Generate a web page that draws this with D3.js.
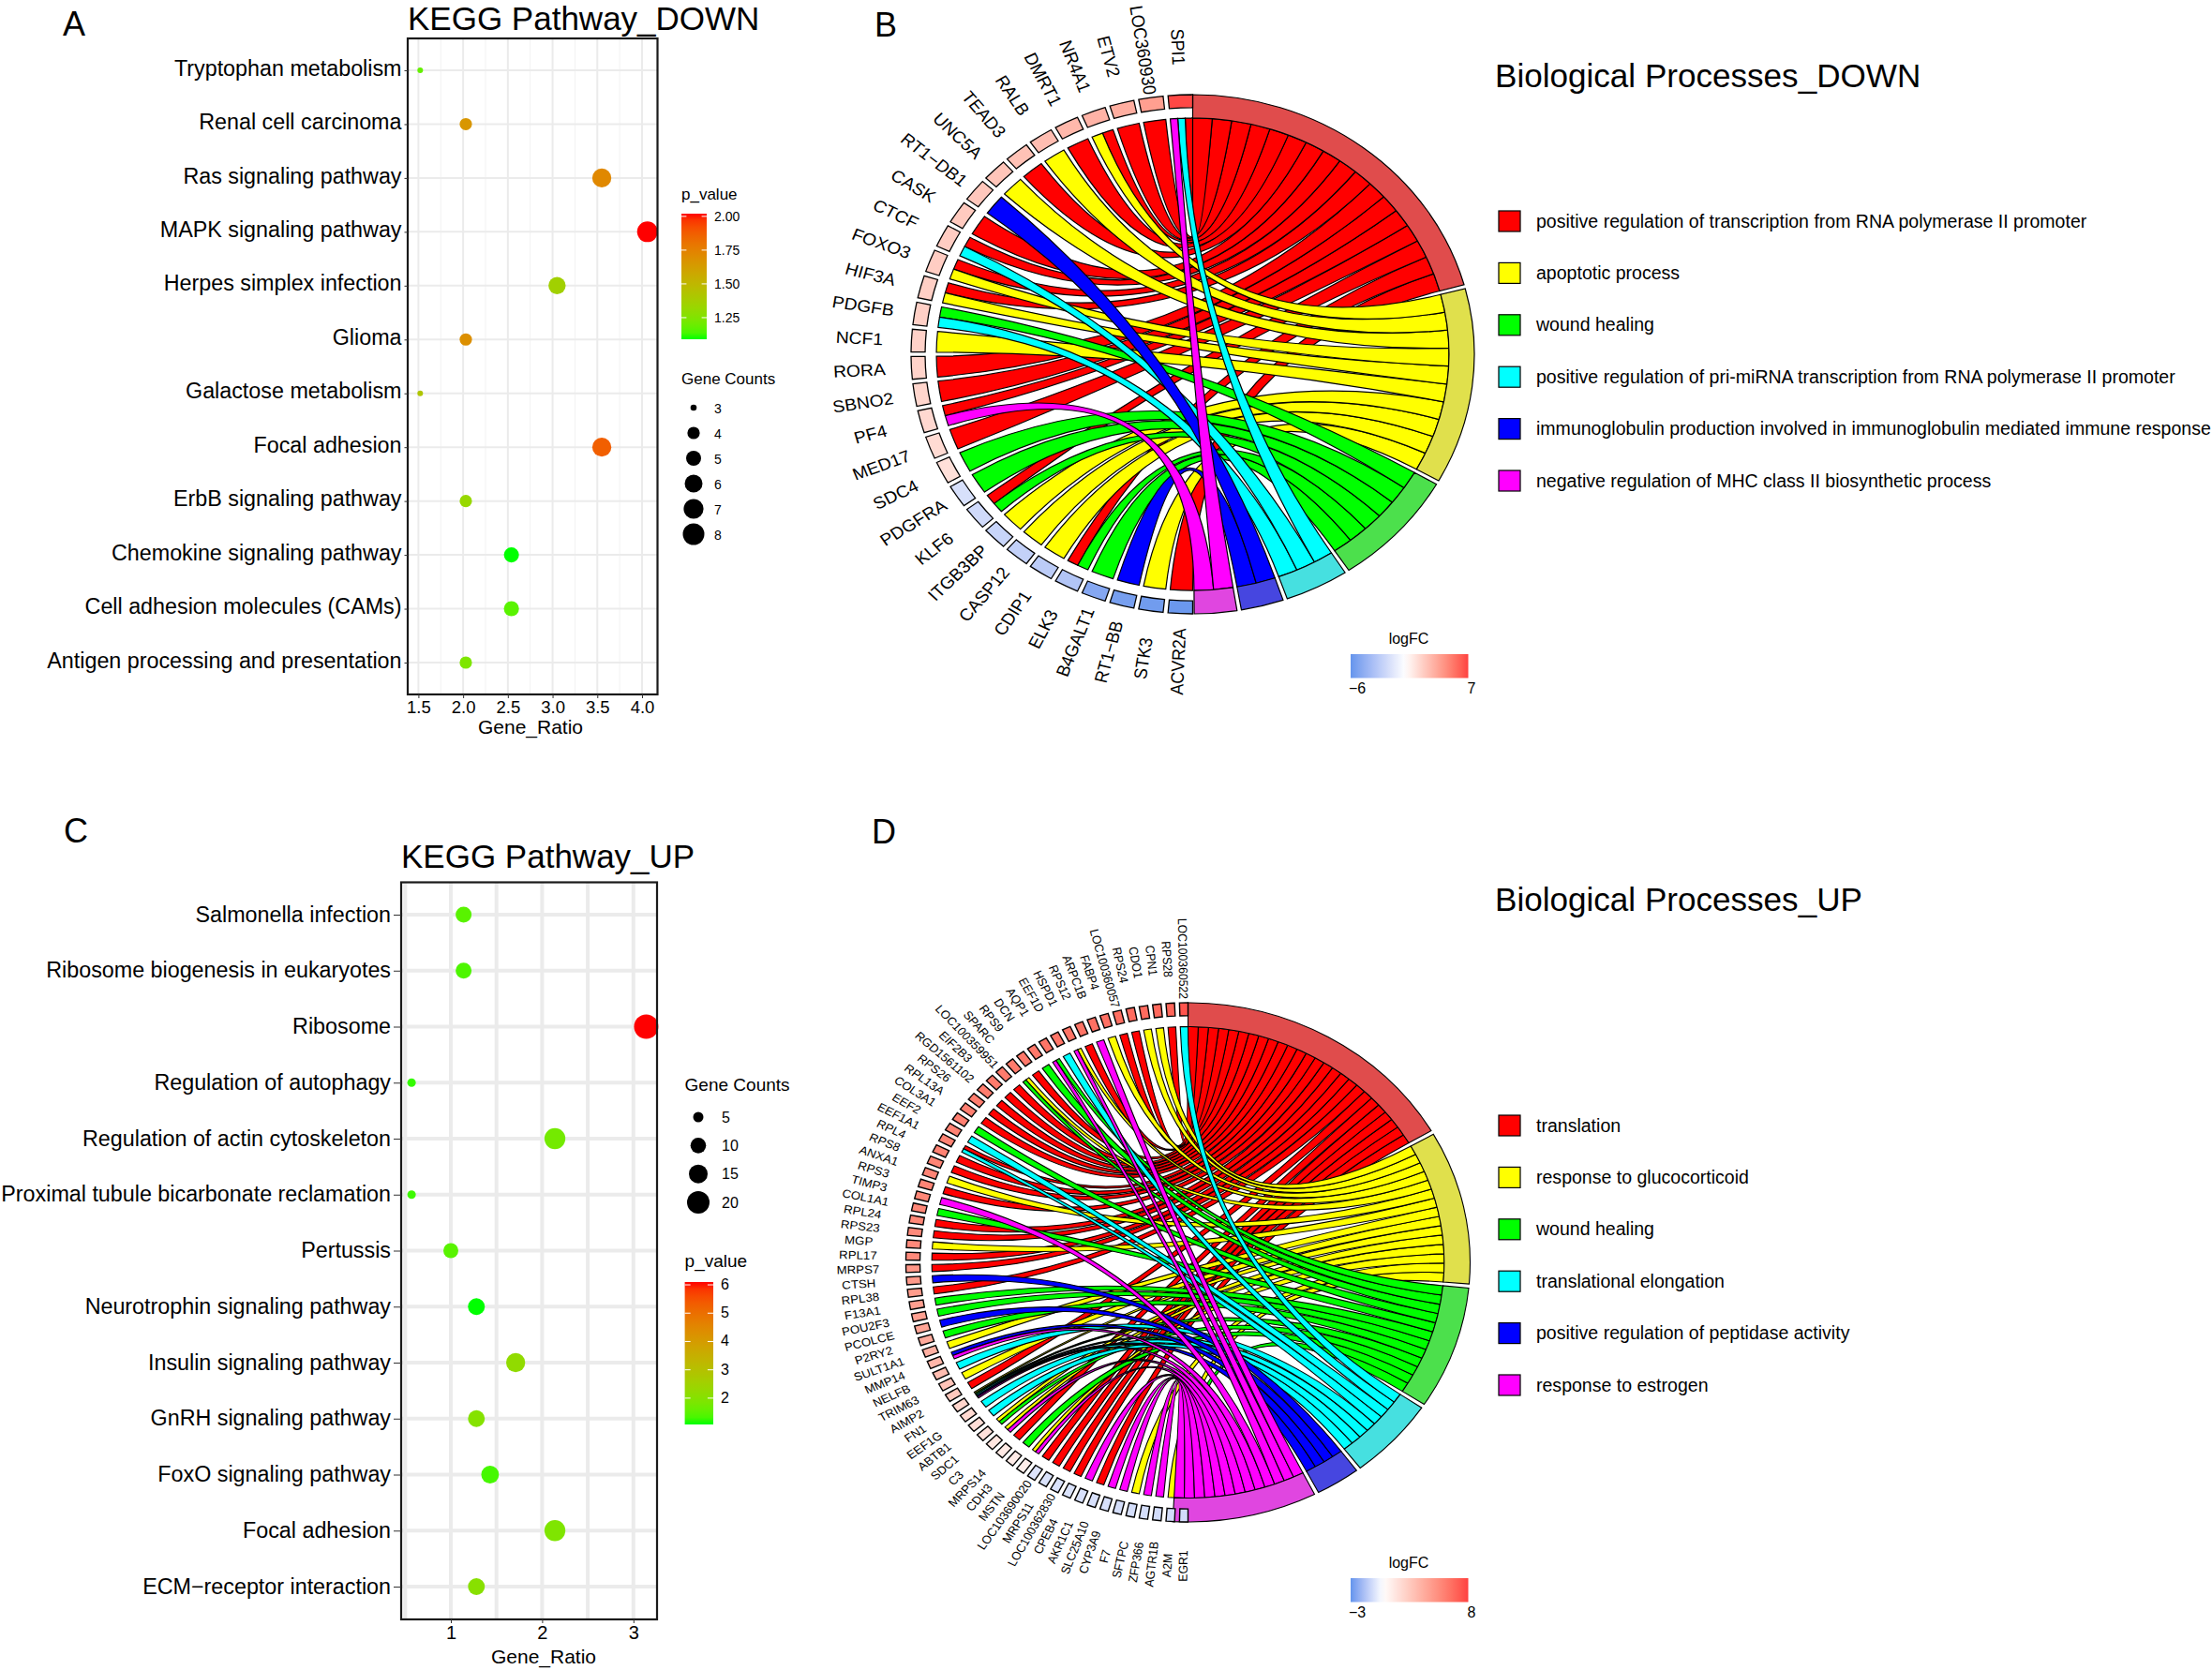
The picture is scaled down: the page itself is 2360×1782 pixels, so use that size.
<!DOCTYPE html>
<html><head><meta charset="utf-8">
<script src="https://cdnjs.cloudflare.com/ajax/libs/d3/7.8.5/d3.min.js"></script>
<style>
html,body{margin:0;padding:0;background:#fff}
svg{display:block}
text{font-family:"Liberation Sans",Arial,sans-serif;fill:#000}
</style></head><body>
<svg id="fig" width="2360" height="1782"></svg>
<script>
// ---------- Panel A data ----------
const catsA = ["Tryptophan metabolism","Renal cell carcinoma","Ras signaling pathway","MAPK signaling pathway","Herpes simplex infection","Glioma","Galactose metabolism","Focal adhesion","ErbB signaling pathway","Chemokine signaling pathway","Cell adhesion molecules (CAMs)","Antigen processing and presentation"];
const ratioA = [1.52,2.03,3.55,4.06,3.05,2.03,1.52,3.55,2.03,2.54,2.54,2.03];
const countA = [3,4,7,8,6,4,3,7,4,5,5,4];
const pvalA  = [1.18,1.66,1.72,2.02,1.36,1.69,1.42,1.87,1.32,1.09,1.16,1.24];
const xTicksA = [1.5,2.0,2.5,3.0,3.5,4.0];
const xMinorA = [1.75,2.25,2.75,3.25,3.75];
const sizeLegendA = [3,4,5,6,7,8];
const pTicksA = [2.0,1.75,1.5,1.25];
// ---------- Panel C data ----------
const catsC = ["Salmonella infection","Ribosome biogenesis in eukaryotes","Ribosome","Regulation of autophagy","Regulation of actin cytoskeleton","Proximal tubule bicarbonate reclamation","Pertussis","Neurotrophin signaling pathway","Insulin signaling pathway","GnRH signaling pathway","FoxO signaling pathway","Focal adhesion","ECM\u2212receptor interaction"];
const ratioC = [1.14,1.14,3.14,0.57,2.14,0.57,1.0,1.28,1.71,1.28,1.43,2.14,1.28];
const countC = [8,8,22,4,15,4,7,9,12,9,10,15,9];
const pvalC  = [1.45,1.35,6.1,1.2,1.75,1.25,1.45,1.07,2.2,2.0,1.3,1.9,2.05];
const xTicksC = [1,2,3];
const xMinorC = [0.5,1.5,2.5];
const sizeLegendC = [5,10,15,20];
const pTicksC = [6,5,4,3,2];
// ---------- Panel B data (genes run clockwise from the bottom) ----------
const genesB = ["ACVR2A","STK3","RT1\u2212BB","B4GALT1","ELK3","CDIP1","CASP12","ITGB3BP","KLF6","PDGFRA","SDC4","MED17","PF4","SBNO2","RORA","NCF1","PDGFB","HIF3A","FOXO3","CTCF","CASK","RT1\u2212DB1","UNC5A","TEAD3","RALB","DMRT1","NR4A1","ETV2","LOC360930","SPI1"];
const logFCB = [-5.8,-5.6,-5.4,-4.9,-3.2,-2.8,-2.5,-2.3,-2.0,-1.7,1.3,1.5,1.6,1.7,1.8,1.9,1.95,2.0,2.05,2.1,2.2,2.3,2.4,2.5,2.7,2.9,3.1,3.3,3.9,6.8];
const linksB = ["R","Y","B","G","RG","Y","Y","Y","RG","G","G","R","RM","R","R","Y","GC","RY","RY","RC","R","B","Y","R","Y","R","RY","R","R","RCM"];
const termsB = ["positive regulation of transcription from RNA polymerase II promoter","apoptotic process","wound healing","positive regulation of pri-miRNA transcription from RNA polymerase II promoter","immunoglobulin production involved in immunoglobulin mediated immune response","negative regulation of MHC class II biosynthetic process"];
const fcRangeB = [-6,7];
// ---------- Panel D data ----------
const genesD = ["EGR1","A2M","AGTR1B","ZFP366","SFTPC","F7","CYP3A9","SLC25A10","AKR1C1","CPEB4","LOC100362830","MRPS11","LOC103690020","MSTN","CDH3","MRPS14","C3","SDC1","ABTB1","EEF1G","FN1","AIMP2","TRIM63","NELFB","MMP14","SULT1A1","P2RY2","PCOLCE","POU2F3","F13A1","RPL38","CTSH","MRPS7","RPL17","MGP","RPS23","RPL24","COL1A1","TIMP3","RPS3","ANXA1","RPS8","RPL4","EEF1A1","EEF2","COL3A1","RPL13A","RPS26","RGD1561102","EIF2B3","LOC100359951","SPARC","RPS9","DCN","AQP1","EEF1D","HSPD1","RPS12","ARPC1B","FABP4","LOC100360057","RPS24","CDO1","CPN1","RPS28","LOC100360522"];
const logFCD = [-0.95,-0.95,-0.95,-0.9,-0.9,-0.9,-0.85,-0.85,-0.85,-0.8,-0.8,-0.8,-0.75,0.8,0.9,1.0,1.2,1.4,1.6,1.8,2.0,2.6,2.8,3.1,3.4,3.7,4.0,4.2,4.4,4.5,4.6,4.7,4.8,5.4,5.4,5.4,5.5,5.5,5.5,5.6,5.6,5.6,5.7,5.7,5.7,5.8,5.8,5.9,5.9,6.0,6.0,6.0,6.1,6.1,6.2,6.2,6.3,6.3,6.4,6.4,6.5,6.6,6.6,6.7,6.8,7.4];
const linksD = ["G","Y","M","M","Y","M","M","R","M","R","R","R","R","YM","G","R","YM","YG","C","C","YGCBM","R","Y","C","BM","Y","G","B","G","G","R","B","R","R","Y","R","R","G","M","R","Y","R","R","RC","C","G","R","R","R","R","R","YG","R","G","GM","C","YM","R","M","Y","R","R","Y","Y","R","C"];
const termsD = ["translation","response to glucocorticoid","wound healing","translational elongation","positive regulation of peptidase activity","response to estrogen"];
const fcRangeD = [-3,8];
// ---------- Shared categories ----------
const procKeys = ["R","Y","G","C","B","M"];
const ribbonColors = ["#FF0000","#FFFF00","#00FF00","#00FFFF","#0000FF","#FF00FF"];
const arcColors = ["#E04C4C","#E0E04C","#4CE04C","#46E0E0","#4646E0","#E046E0"];

const svg = d3.select("#fig");
const defs = svg.append("defs");
const lowHigh = d3.interpolateLab("#00FF00","#FF0000");
let gid = 0;

function label(x,y,txt,size,anchor="start"){
  return svg.append("text").attr("x",x).attr("y",y).attr("font-size",size).attr("text-anchor",anchor).text(txt);
}
function vGradient(colorAt){
  const id="g"+(gid++);
  const g=defs.append("linearGradient").attr("id",id).attr("x1",0).attr("x2",0).attr("y1",1).attr("y2",0);
  d3.range(0,1.0001,0.05).forEach(t=>g.append("stop").attr("offset",t).attr("stop-color",colorAt(t)));
  return id;
}

function dotPanel(o){
  const x=d3.scaleLinear().domain(o.xDomain).range(o.xRange);
  const y=d3.scalePoint().domain(o.cats).range([o.yFirst,o.yLast]);
  const col=d3.scaleLinear().domain(o.pDomain).range([0,1]);
  const t=d3.scaleLinear().domain(o.cDomain).range([0,1]);
  const rad=d3.scaleSqrt().domain([0,1]).range(o.rRange);
  const r=c=>rad(t(c));
  const g=svg.append("g");
  // grid
  g.selectAll("line.minor").data(o.xMinor).join("line").attr("class","minor").attr("x1",x).attr("x2",x).attr("y1",o.top).attr("y2",o.bottom)
    .attr("stroke",o.minorColor).attr("stroke-width",o.minorW);
  g.selectAll("line.vmaj").data(o.xTicks).join("line").attr("class","vmaj").attr("x1",x).attr("x2",x).attr("y1",o.top).attr("y2",o.bottom)
    .attr("stroke","#EBEBEB").attr("stroke-width",o.majorW);
  g.selectAll("line.hmaj").data(o.cats).join("line").attr("class","hmaj").attr("x1",o.left).attr("x2",o.right).attr("y1",y).attr("y2",y)
    .attr("stroke","#EBEBEB").attr("stroke-width",o.majorW);
  // dots
  g.selectAll("circle").data(o.cats).join("circle")
    .attr("cx",(d,i)=>x(o.ratio[i])).attr("cy",d=>y(d))
    .attr("r",(d,i)=>r(o.count[i]))
    .attr("fill",(d,i)=>lowHigh(col(o.pval[i])));
  // frame
  g.append("rect").attr("x",o.left).attr("y",o.top).attr("width",o.right-o.left).attr("height",o.bottom-o.top)
    .attr("fill","none").attr("stroke","#1a1a1a").attr("stroke-width",2.2);
  // axes
  const ax=svg.append("g").attr("transform",`translate(0,${o.bottom})`)
    .call(d3.axisBottom(x).tickValues(o.xTicks).tickFormat(o.xFmt).tickSize(4).tickPadding(3));
  ax.select(".domain").remove();
  ax.selectAll("text").attr("font-size",o.tickFont).style("font-family","Liberation Sans");
  ax.selectAll("line").attr("stroke","#333");
  const ay=svg.append("g").attr("transform",`translate(${o.left},0)`)
    .call(d3.axisLeft(y).tickSize(o.tickLen).tickPadding(o.labPad));
  ay.select(".domain").remove();
  ay.selectAll("text").attr("font-size",23.3).attr("dy",o.labDy).style("font-family","Liberation Sans");
  ay.selectAll("line").attr("stroke","#333");
  label(o.xTitleX,o.xTitleY,"Gene_Ratio",21,"middle");
  label(o.left,o.titleY,o.title,35);
  // colour bar
  const py=d3.scaleLinear().domain(o.pDomain).range([o.barBottom,o.barTop]);
  label(o.barX,o.pTitleY,"p_value",o.legTitle);
  const gid1=vGradient(lowHigh);
  svg.append("rect").attr("x",o.barX).attr("y",o.barTop).attr("width",o.barW).attr("height",o.barBottom-o.barTop).attr("fill",`url(#${gid1})`);
  o.pTicks.forEach(v=>{
    [[0,o.barW/5],[o.barW*4/5,o.barW]].forEach(s=>svg.append("line").attr("x1",o.barX+s[0]).attr("x2",o.barX+s[1]).attr("y1",py(v)).attr("y2",py(v)).attr("stroke","#fff").attr("stroke-width",1));
    label(o.barX+o.barW+8,py(v)+5,o.pFmt(v),o.legTick);
  });
  // size legend
  label(o.barX,o.sTitleY,"Gene Counts",o.legTitle);
  const sy=d3.scalePoint().domain(o.sizeLegend).range(o.sRange);
  svg.selectAll(null).data(o.sizeLegend).join("circle").attr("cx",o.sX).attr("cy",sy).attr("r",d=>o.sR(d)).attr("fill","#000");
  o.sizeLegend.forEach(v=>label(o.sX+22+(o.sShift||0),sy(v)+5.5,v,o.legTick));
}

dotPanel({cats:catsA,ratio:ratioA,count:countA,pval:pvalA,xTicks:xTicksA,xMinor:xMinorA,xFmt:d3.format(".1f"),
  xDomain:[1.5,4.0],xRange:[446.4,685],left:435,right:701.5,yFirst:75,yLast:707,top:41,bottom:741,labDy:"0.22em",
  rRange:[3,11],cDomain:[3,8],pDomain:[1.09,2.02],minorColor:"#F2F2F2",minorW:1,majorW:2,tickFont:18.5,tickLen:3.5,labPad:3,
  xTitleX:566,xTitleY:783,title:"KEGG Pathway_DOWN",titleY:32,
  barX:727,barW:27,barTop:228,barBottom:362,pTitleY:213,pTicks:pTicksA,pFmt:d3.format(".2f"),legTitle:17,legTick:14,
  sTitleY:410,sizeLegend:sizeLegendA,sRange:[435,570],sX:740,sR:v=>d3.scaleLinear().domain([3,4,5,6,7,8]).range([3.3,6.6,8,9.5,10.6,11.5])(v)});
dotPanel({cats:catsC,ratio:ratioC,count:countC,pval:pvalC,xTicks:xTicksC,xMinor:xMinorC,xFmt:d3.format("d"),
  xDomain:[1,3],xRange:[481,675.8],left:428,right:701,yFirst:976,yLast:1693,top:941.5,bottom:1728,labDy:"0.3em",
  rRange:[4.5,13],cDomain:[4,22],pDomain:[1.07,6.1],minorColor:"#EBEBEB",minorW:4,majorW:4,tickFont:20,tickLen:8,labPad:3,
  xTitleX:580,xTitleY:1775,title:"KEGG Pathway_UP",titleY:926,
  barX:730.6,barW:30.4,barTop:1368,barBottom:1520,pTitleY:1352,pTicks:pTicksC,pFmt:d3.format("d"),legTitle:19,legTick:16,
  sTitleY:1164,sizeLegend:sizeLegendC,sRange:[1192,1283],sX:745,sShift:3,sR:v=>d3.scaleLinear().domain([5,10,15,20]).range([5.5,8.3,10,12])(v)});

function chordPanel(o){
  const U=1000;
  const root=svg.append("g").attr("transform",`translate(${o.cx},${o.cy}) scale(${o.rx/U},${o.ry/U})`);
  const deg=Math.PI/180;
  // gene slots: equal-width tiles on the left half
  const band=d3.scaleBand().domain(o.genes).range([Math.PI,2*Math.PI]).paddingInner(o.genePad).paddingOuter(0);
  const fc=d3.scaleLinear().domain([o.fcRange[0],0,o.fcRange[1]]).range(["#6495ED","#FFFFFF","#FF4040"]).interpolate(d3.interpolateLab);
  // per-process ribbon lists, last gene first so that ribbons do not twist
  const links=[];
  o.genes.forEach((g,i)=>{
    const keys=Array.from(o.links[i]).sort((a,b)=>procKeys.indexOf(b)-procKeys.indexOf(a));
    const w=band.bandwidth()/keys.length;
    keys.forEach((k,j)=>links.push({gene:g,geneIndex:i,proc:procKeys.indexOf(k),src:{startAngle:band(g)+j*w,endAngle:band(g)+(j+1)*w}}));
  });
  const ribW=o.ribDeg*deg, gap=o.gapDeg*deg;
  let pos=0; const arcsData=[];
  procKeys.forEach((k,pi)=>{
    const ls=links.filter(l=>l.proc===pi).sort((a,b)=>b.geneIndex-a.geneIndex);
    const start=pos;
    ls.forEach(l=>{l.tgt={startAngle:pos,endAngle:pos+ribW};pos+=ribW;});
    arcsData.push({pi,startAngle:start,endAngle:pos});
    pos+=gap;
  });
  const ribbon=d3.ribbon().radius(o.ribR*U);
  const sw=o.stroke;
  const nonScale=s=>s.attr("vector-effect","non-scaling-stroke").attr("stroke","#000");
  // ribbons, red first
  const ordered=links.slice().sort((a,b)=>a.proc-b.proc);
  root.selectAll("path.rib").data(ordered).join("path").attr("class","rib")
    .attr("d",d=>ribbon({source:d.src,target:d.tgt}))
    .attr("fill",d=>ribbonColors[d.proc]).call(nonScale).attr("stroke-width",sw);
  // process arcs
  const arc=d3.arc().innerRadius(o.ribR*U).outerRadius(U);
  root.selectAll("path.proc").data(arcsData).join("path").attr("class","proc")
    .attr("d",d=>arc(d)).attr("fill",d=>arcColors[d.pi]).call(nonScale).attr("stroke-width",sw);
  // gene tiles
  const tile=d3.arc().innerRadius(o.tileR*U).outerRadius(U);
  root.selectAll("path.gene").data(o.genes).join("path").attr("class","gene")
    .attr("d",g=>tile({startAngle:band(g),endAngle:band(g)+band.bandwidth()}))
    .attr("fill",(g,i)=>fc(o.logFC[i])).call(nonScale).attr("stroke-width",o.tileStroke);
  // gene labels: centred on a ring, in the stretched frame of the panel
  svg.append("g").selectAll("text").data(o.genes).join("text")
    .attr("font-size",o.geneFont).attr("text-anchor","middle").attr("dy","0.35em")
    .attr("transform",g=>{
      const a=band(g)+band.bandwidth()/2;
      const x=o.cx+o.rx*o.labelR*Math.sin(a), y=o.cy-o.ry*o.labelR*Math.cos(a);
      return `translate(${x},${y}) scale(${o.rx/o.ry},1) rotate(${a/deg-270})`;
    }).text(g=>g);
  // title + legend
  label(1595,o.titleY,o.title,35.1);
  const ly=d3.scalePoint().domain(o.terms).range(o.legendY);
  svg.selectAll(null).data(o.terms).join("rect").attr("x",1599).attr("width",23).attr("y",d=>ly(d)-11).attr("height",22)
    .attr("fill",(d,i)=>ribbonColors[i]).attr("stroke","#000").attr("stroke-width",1.2);
  o.terms.forEach(t=>label(1639,ly(t)+6.5,t,19.55));
  // logFC bar
  const id="g"+(gid++);
  const lg=defs.append("linearGradient").attr("id",id);
  d3.range(0,1.0001,0.05).forEach(t=>lg.append("stop").attr("offset",t).attr("stop-color",fc(o.fcRange[0]+t*(o.fcRange[1]-o.fcRange[0]))));
  svg.append("rect").attr("x",1441).attr("y",o.barTop).attr("width",125.5).attr("height",25.5).attr("fill",`url(#${id})`);
  label(1503,o.barTop-11,"logFC",16,"middle");
  label(1448,o.barTop+42,String(o.fcRange[0]).replace("-","\u2212"),16,"middle");
  label(1570,o.barTop+42,String(o.fcRange[1]),16,"middle");
}

chordPanel({genes:genesB,logFC:logFCB,links:linksB,terms:termsB,fcRange:fcRangeB,title:"Biological Processes_DOWN",titleY:93,
  cx:1272.5,cy:378,rx:300.5,ry:277,ribR:0.91,tileR:0.95,labelR:1.185,ribDeg:4.38,gapDeg:0.9,genePad:1/6,geneFont:17.8,stroke:1.2,tileStroke:1.3,
  legendY:[236,513],barTop:698});
chordPanel({genes:genesD,logFC:logFCD,links:linksD,terms:termsD,fcRange:fcRangeD,title:"Biological Processes_UP",titleY:972,
  cx:1267.5,cy:1347,rx:301,ry:277,ribR:0.908,tileR:0.95,labelR:1.17,ribDeg:2.29,gapDeg:0.9,genePad:1/2.727,geneFont:12.2,stroke:1.1,tileStroke:1.4,
  legendY:[1201,1478],barTop:1684});

label(67,38,"A",36);label(933,39,"B",36);label(68,899,"C",36);label(930,900,"D",36);
</script>
</body></html>
